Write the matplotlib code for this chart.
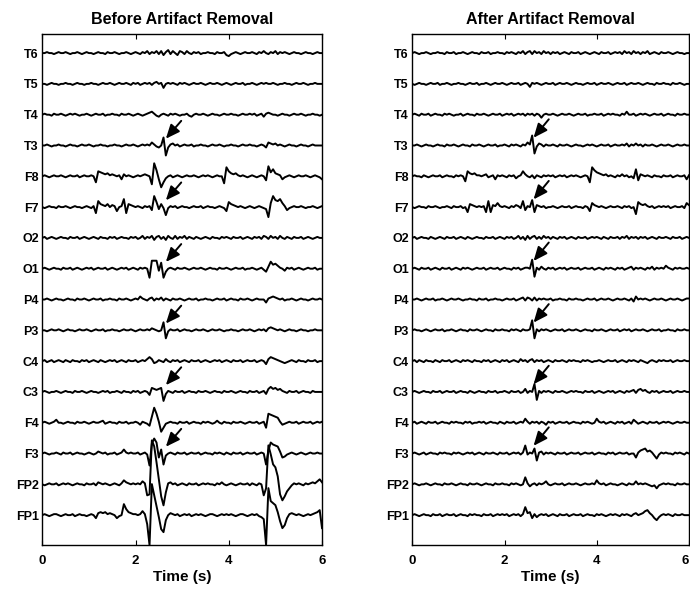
import numpy as np
import matplotlib
matplotlib.use("Agg")
import matplotlib.pyplot as plt

plt.rcParams['font.family'] = ['Liberation Sans', 'DejaVu Sans']
plt.rcParams['font.weight'] = 'bold'

# traces sampled every 0.05 s from 0 to 6 s, values in pixels of deflection (up = +)
channels = ["T6", "T5", "T4", "T3", "F8", "F7", "O2", "O1",
            "P4", "P3", "C4", "C3", "F4", "F3", "FP2", "FP1"]
arrow_channels = ["T3", "F7", "O1", "P3", "C3", "F3"]

# ---- before artifact removal ----
t6_before = [0,0,1,0,0,-1,0,1,0,0, 1,0,-1,0,0,1,0,-1,0,1, 0,0,-1,0,1,0,0,-1,1,0,
             0,1,0,-1,0,0,1,0,-1,0, 1,0,-1,1,0,2,-1,1,0,2, -1,2,-2,1,3,-1,2,0,-2,2,
             1,-1,2,0,-1,1,0,1,-1,0, 0,1,0,0,-1,1,0,0,1,-2, -3,-1,0,1,0,-1,0,1,0,0,
             1,0,-1,1,0,2,0,-1,1,0, 2,-1,1,0,1,0,-1,0,1,0, 0,-1,0,1,0,0,-1,0,1,0, 0]
t5_before = [0,0,-1,0,1,0,0,-1,0,0, 1,0,0,-1,0,1,0,0,-1,0, 0,1,0,0,-1,0,1,0,0,1,
             0,-1,0,1,0,0,1,0,-1,1, 0,1,-1,0,1,0,1,-1,1,2, 0,1,-4,0,1,0,1,0,-1,1,
             0,1,0,-1,0,1,0,0,1,0, -1,0,1,0,0,1,0,-1,0,1, 0,-1,0,1,0,0,1,-1,0,0,
             1,0,-1,0,1,0,1,0,0,1, 0,-1,0,0,1,0,0,-1,0,1, 0,0,1,0,-1,0,0,1,0,0, 0]
t4_before = [0,1,0,0,-1,1,0,0,1,0, -1,0,1,0,1,0,-1,0,0,1, 0,-1,0,1,0,0,1,-1,0,0,
             1,0,0,-1,1,0,0,1,0,-1, 0,1,0,-1,0,1,2,3,1,-1, -2,0,1,0,-1,1,0,1,0,-1,
             0,0,1,-1,-2,0,1,0,0,1, 0,-1,0,1,0,0,-1,0,1,0, 0,1,0,0,-1,0,1,0,0,1,
             0,1,-1,0,1,-2,1,2,1,0, 0,-1,0,1,0,0,-1,0,1,0, 0,1,0,-1,0,0,1,0,0,-1, 0]
t3_before = [0,0,1,0,-1,0,0,1,0,0, -1,0,1,0,0,-1,0,1,0,0, 1,0,-1,0,0,1,0,0,-1,0,
             0,1,0,0,-1,0,1,0,0,1, 0,-1,0,1,0,1,0,3,1,-1, -2,0,8,-10,-2,1,2,0,1,-1,
             0,1,0,0,1,-1,0,0,1,0, 0,-1,0,1,0,0,1,0,-1,0, 0,1,0,0,-1,0,1,0,0,1,
             0,0,-1,0,1,0,-2,3,2,1, 2,0,1,0,-1,0,1,0,0,-1, 0,1,0,0,-1,0,1,0,0,0, 0]
f8_before = [0,1,0,-1,0,1,0,0,1,0, -1,0,1,0,0,1,-1,0,1,0, 0,1,0,-6,5,4,3,2,3,1,
             2,1,0,1,-3,2,0,1,0,-1, 0,1,0,1,2,1,0,-8,13,6, -3,-11,-6,-2,0,1,-1,0,1,0,
             -1,0,1,0,0,1,0,-1,0,1, 0,1,0,-1,0,1,0,0,-7,9, 5,3,2,3,1,0,1,0,-1,0,
             1,0,-1,0,1,0,-4,10,4,7, 3,2,1,-3,-1,0,1,0,-1,0, 1,0,0,1,0,-1,0,1,0,-1, -3]
f7_before = [0,-1,0,1,0,0,-1,1,0,0, 1,0,-1,0,1,0,0,-1,0,1, 0,-1,1,-6,6,3,2,1,3,0,
             2,1,-4,0,1,8,-6,3,2,1, 0,1,0,-1,1,0,1,-3,11,5, -2,3,-1,-8,-1,1,0,1,-1,0,
             1,0,0,-1,0,1,0,0,1,-1, 0,1,0,0,-1,0,1,0,-1,-4, 5,3,2,1,0,1,0,-1,0,1,
             0,-1,0,1,0,-1,-2,-10,4,11, 7,6,8,4,1,-3,-1,0,1,0, 0,1,0,-1,0,0,1,0,-1,0, 1]
o2_before = [0,1,-1,0,1,0,-1,0,1,0, 0,-1,1,0,0,1,-1,0,1,0, -1,0,1,0,-1,1,0,0,-1,1,
             0,1,-1,0,1,0,0,-1,1,0, 1,-1,0,2,-1,1,0,2,-2,1, 2,-1,1,-2,2,0,-1,2,-1,1,
             0,2,-1,1,0,-1,1,0,-1,0, 1,0,-1,1,0,0,-1,1,0,1, 0,-1,1,0,0,1,-1,0,1,0,
             -1,1,0,1,-1,2,1,-1,2,0, 1,-1,2,0,-1,1,0,-1,1,0, 0,1,-1,0,1,0,-1,0,1,0, 0]
o1_before = [0,1,0,-1,0,1,0,0,-1,1, 0,0,1,-1,0,1,0,-1,0,1, 0,1,-1,0,1,0,0,1,-1,0,
             1,0,-1,0,1,0,1,-1,0,1, 0,-1,1,0,1,0,-9,8,8,8, -2,6,-9,-3,0,1,0,-1,1,0,
             0,1,0,-1,0,1,0,0,1,0, -1,0,1,0,0,-1,1,0,0,1, 0,-1,0,1,0,0,1,-1,0,0,
             1,0,-1,0,1,-1,-3,2,7,4, 5,3,1,0,-2,1,0,1,-1,0, 1,0,-1,0,1,0,0,1,-1,0, 0]
p4_before = [0,0,1,0,-1,0,1,0,0,-1, 0,1,0,0,-1,1,0,0,1,0, -1,0,1,0,0,1,-1,0,0,1,
             0,0,-1,1,0,0,1,0,-1,0, 1,0,3,1,0,-1,1,2,-1,1, 0,2,-1,1,0,-1,1,0,0,1,
             0,-1,0,1,0,0,1,-1,0,0, 1,0,0,-1,0,1,0,0,1,-1, 0,1,0,0,-1,1,0,0,1,0,
             -1,0,1,0,0,0,-3,1,2,3, 2,1,0,1,-1,0,0,1,0,-1, 0,1,0,0,-1,0,1,0,0,1, 0]
p3_before = [0,0,-1,0,1,0,0,1,0,-1, 0,1,0,0,-1,0,1,0,0,1, 0,-1,0,1,0,0,1,-1,0,0,
             1,0,0,-1,0,1,0,0,1,0, -1,0,1,0,0,1,0,2,1,0, -1,0,8,-8,-1,1,0,0,1,-1,
             0,1,0,0,-1,0,1,0,0,1, 0,-1,0,1,0,0,1,0,-1,0, 0,1,0,0,-1,0,1,0,0,1,
             0,-1,0,1,0,1,-1,2,3,2, 1,0,1,0,-1,0,1,0,0,-1, 0,1,0,0,-1,0,0,1,0,0, 0]
c4_before = [0,1,-1,0,1,-1,0,1,0,-1, 1,0,-1,1,0,0,-1,1,0,1, -1,0,1,0,-1,1,0,-1,0,1,
             0,1,-1,0,1,0,-1,1,0,0, 1,-1,0,1,0,2,4,2,-2,-1, 1,0,-1,2,0,-1,1,0,1,-1,
             0,1,0,-1,1,0,0,1,-1,0, 1,0,-1,0,1,0,1,-1,0,1, 0,-1,1,0,0,1,-1,0,1,0,
             0,1,-1,0,1,0,-3,2,4,3, 2,1,0,-1,-2,-1,0,1,0,-1, 1,0,0,-1,1,0,0,1,-1,0, 0]
c3_before = [0,1,0,-1,0,0,1,0,-1,0, 1,0,0,-1,1,0,0,1,0,-1, 0,1,0,0,-1,0,1,0,1,-1,
             0,0,1,0,-1,1,0,0,-1,1, 0,1,-1,0,1,0,-3,4,3,2, 3,4,-9,-2,1,0,-1,1,0,0,
             1,-1,0,1,0,0,-1,1,0,0, 1,0,-1,0,1,0,0,-1,1,0, 0,1,0,-1,0,1,0,0,-1,1,
             0,0,1,-1,0,1,-2,3,5,3, 4,2,3,1,0,-1,1,0,0,1, -1,0,1,0,0,-1,1,0,0,0, 0]
f4_before = [0,1,0,-1,0,1,3,0,0,-1, 0,1,0,0,-1,1,0,0,1,0, -1,0,1,0,0,1,2,-1,0,1,
             0,0,-1,1,0,0,1,-1,0,0, 1,0,-2,1,0,-1,-3,6,15,9, 1,-9,-5,-1,0,1,0,0,-1,1,
             0,0,1,-1,0,1,0,0,-1,1, 0,1,0,-1,0,2,0,-1,1,0, 0,-1,1,0,0,1,0,-1,0,1,
             0,0,1,-1,0,1,-5,9,8,7, 6,5,1,-2,-1,0,1,0,0,1, -1,0,1,0,0,1,-1,0,1,0, 1]
f3_before = [0,1,0,-1,0,0,1,0,-1,1, 0,0,1,-1,0,1,0,0,-1,0, 1,0,-1,0,2,1,0,1,-1,0,
             0,1,-1,0,1,4,1,0,1,0, 0,1,-1,0,1,-1,-12,10,15,11, -4,4,-11,-2,0,1,0,-1,1,0,
             0,1,-1,0,1,0,0,1,-1,0, 1,0,0,-1,1,0,1,0,-1,1, 0,-1,1,0,0,1,-1,0,1,0,
             0,1,-1,0,1,0,-11,3,11,9, 8,7,2,-4,-3,-1,0,1,0,-1, 0,1,0,-1,0,1,0,0,1,0, 0]
fp2_before = [0,-1,0,1,0,0,1,-1,0,1, 0,1,0,-1,0,1,0,0,-1,1, 0,0,1,-1,2,1,0,1,0,-1,
              0,1,0,-1,1,4,2,1,0,1, 0,1,0,3,1,-11,-10,44,38,22, 5,-12,-21,-8,1,2,0,1,-1,0,
              1,0,-1,1,0,0,1,-1,0,1, 0,1,0,0,-1,1,0,2,0,-1, 0,1,0,-1,0,1,0,0,1,-1,
              1,0,-1,1,0,-11,-4,39,30,20, 17,8,-10,-16,-12,-7,-4,-1,1,0, 1,0,-1,1,0,1,2,1,3,5, 2]
fp1_before = [0,1,0,-1,0,1,1,0,-1,0, 1,0,0,1,-1,0,1,0,0,-1, 0,1,0,-3,2,3,2,3,1,2,
              1,0,-3,-1,0,11,6,3,2,1, 1,0,1,4,1,-9,-30,31,20,9, -2,-14,-17,-5,0,2,1,0,1,-1,
              0,1,0,1,-1,0,1,0,1,0, -1,0,1,1,0,-1,0,1,0,1, 0,1,0,-1,0,1,1,0,-1,0,
              1,0,1,-1,-2,-4,-30,27,14,12, 10,3,-6,-13,-10,-3,1,2,1,0, 1,0,-1,0,1,0,1,2,3,5, -13]

# ---- after artifact removal ----
t6_after = [0,1,0,-1,0,0,1,0,-1,0, 0,1,0,0,-1,1,0,0,1,-1, 0,0,1,0,-1,0,1,0,0,-1,
            1,0,0,1,-1,0,0,1,0,0, -1,1,0,1,0,-1,1,0,2,-1, 1,2,-1,2,0,1,-1,2,0,1,
            -1,1,0,1,-1,0,1,0,-1,1, 0,0,1,-1,0,1,0,-1,0,1, 0,-1,1,0,0,1,-1,0,1,0,
            1,-1,2,0,1,-1,2,0,1,-1, 1,0,2,-1,0,1,0,-1,1,0, 0,1,0,-1,0,1,0,0,-1,0, 0]
t5_after = [0,-1,0,1,0,0,-1,0,1,0, 0,1,-1,0,0,1,0,-1,0,0, 1,0,0,-1,0,1,0,0,1,-1,
            0,0,1,0,-1,0,1,0,0,1, 0,-1,0,1,0,0,1,-1,0,1, 0,-3,1,0,1,0,-1,0,1,0,
            0,1,-1,0,1,0,0,1,0,-1, 0,1,0,0,-1,0,1,0,0,1, -1,0,1,0,0,1,0,-1,0,1,
            0,0,1,-1,0,1,0,0,1,0, -1,0,1,0,0,-1,1,0,0,1, 0,0,-1,1,0,0,1,0,-1,0, 0]
t4_after = [0,1,0,-1,1,0,0,1,-1,0, 1,0,0,-1,1,0,1,0,-1,0, 0,1,-1,0,1,0,0,-1,1,0,
            0,1,0,-1,0,1,0,0,1,-1, 0,1,0,1,-1,0,1,0,1,-1, 1,0,1,-1,1,0,-3,0,1,0,
            0,1,0,-1,0,1,0,0,1,0, -1,0,1,0,0,1,-1,0,0,1, 0,0,1,-1,0,1,0,1,0,0,
            -1,1,0,3,0,0,1,-1,0,1, 0,1,0,-1,0,1,0,0,1,-1, 0,1,0,0,-1,1,0,0,1,0, 0]
t3_after = [0,0,1,0,-1,0,1,0,0,-1, 0,1,0,0,-1,1,0,0,1,0, -1,0,1,0,0,-1,1,0,0,1,
            0,-1,0,1,0,0,1,-1,0,0, 1,0,-1,1,0,1,0,-1,1,0, 3,1,10,-8,-1,2,1,-1,1,0,
            0,1,0,-1,1,0,0,1,0,-1, 0,1,0,0,-1,0,1,0,1,0, -1,0,1,0,0,1,-1,0,1,0,
            0,1,0,2,-1,1,0,2,0,1, -1,1,0,0,1,0,-1,0,1,0, 0,1,0,-1,0,1,0,0,1,0, 0]
f8_after = [0,1,0,0,-1,1,0,-1,0,1, 0,0,1,-1,0,1,0,0,-1,1, 0,1,0,-5,5,3,2,3,1,1,
            0,1,2,-1,0,1,-3,1,0,1, 0,-1,1,0,1,-2,0,1,5,2, 0,-1,1,-2,1,0,-1,1,0,1,
            0,1,-1,0,1,0,1,-1,0,1, 0,1,0,-1,0,1,0,-6,9,6, 4,3,2,1,2,0,1,0,-1,1,
            0,2,0,1,-1,0,-2,7,-4,2, 1,0,1,0,-1,1,0,0,-1,1, 0,0,1,-1,0,1,0,0,1,-3, 1]
f7_after = [0,-1,0,1,0,0,-1,1,0,0, 1,0,-1,0,0,1,0,-1,1,0, 0,1,-1,0,-5,3,2,1,0,1,
            0,1,-5,6,-5,2,1,4,1,0, 1,0,-1,1,0,2,1,-1,6,-3, 1,0,7,-5,2,1,0,1,-1,0,
            0,1,0,-1,0,1,0,0,1,-1, 0,1,0,0,-1,1,0,-4,4,2, 1,0,1,0,-1,0,1,0,0,1,
            0,-1,1,0,1,-1,0,-7,5,3, 2,3,1,0,1,-1,0,1,0,1, 0,1,-1,0,1,0,0,1,-1,4, 2]
o2_after = [0,1,-1,0,1,0,0,-1,1,0, -1,0,1,0,-1,1,0,0,1,-1, 0,1,0,-1,1,0,-1,0,1,0,
            0,-1,1,0,0,1,-1,0,1,0, -1,1,0,1,-1,0,2,-1,1,-2, 2,-1,1,2,-1,1,-1,2,0,1,
            -1,1,0,-1,1,0,1,-1,0,1, 0,-1,1,0,0,1,-1,0,1,0, 1,0,-1,1,0,-1,1,0,0,1,
            -1,1,0,2,-1,1,0,1,-1,1, 0,1,-1,0,1,0,-1,1,0,0, 1,0,-1,1,0,0,1,-1,0,1, 0]
o1_after = [0,1,0,-1,1,0,0,1,-1,0, 1,0,-1,1,0,0,1,-1,0,1, 0,-1,1,0,1,0,-1,0,1,0,
            0,1,-1,0,1,0,0,1,-1,0, 1,0,0,-1,1,0,1,-1,0,1, 1,0,9,-8,1,-1,2,0,-1,1,
            0,1,-1,0,1,0,1,-1,0,1, 0,0,1,-1,0,1,0,0,1,-1, 0,1,0,-1,1,0,1,0,-1,1,
            0,1,-1,0,1,2,-1,1,0,1, 0,-1,1,0,2,-1,1,0,1,0, 3,1,0,-1,1,0,1,0,0,1, 0]
p4_after = [0,0,1,0,-1,0,1,0,0,1, -1,0,0,1,0,-1,0,1,0,0, 1,0,-1,0,0,1,0,0,-1,1,
            0,0,1,-1,0,0,1,0,0,-1, 0,1,0,0,1,-1,0,1,2,-1, 2,1,-1,2,-1,1,0,1,0,0,
            1,-1,0,0,1,0,0,-1,1,0, 0,1,0,0,-1,0,1,0,0,1, -1,0,1,0,0,1,0,-1,0,1,
            0,0,1,0,-1,1,-2,3,0,1, 0,1,0,-1,0,1,0,0,1,0, -1,0,1,0,0,1,0,-1,0,1, 1]
p3_after = [0,1,0,0,-1,0,1,0,-1,0, 1,0,0,1,-1,0,0,1,0,-1, 0,1,0,0,-1,1,0,0,1,0,
            -1,0,1,0,0,-1,1,0,0,1, 0,0,-1,1,0,1,0,-1,1,0, 0,1,10,-8,1,-1,1,0,1,0,
            -1,0,1,0,0,1,-1,0,1,0, 0,1,0,-1,0,1,0,0,-1,1, 0,0,1,0,-1,0,1,0,0,1,
            -1,0,1,0,1,-1,0,1,0,0, 1,0,-1,0,1,0,0,1,-1,0, 0,1,0,0,-1,1,0,0,1,0, 0]
c4_after = [0,1,-1,1,0,-1,1,0,0,-1, 1,0,-1,1,0,0,1,-1,0,1, 0,-1,1,0,1,0,-1,1,0,0,
            -1,1,0,1,-1,0,1,0,-1,1, 0,1,-1,0,1,0,-1,2,0,1, -1,1,2,-1,1,0,1,-1,0,1,
            0,-1,1,0,0,1,0,-1,1,0, 1,0,0,-1,1,0,1,0,-1,0, 0,1,0,-1,0,1,0,0,1,-1,
            0,1,0,-1,1,0,1,0,-1,1, 0,-1,-2,0,1,0,-1,1,0,1, 0,0,1,-1,0,1,0,0,1,0, 0]
c3_after = [0,1,0,-1,0,1,0,0,-1,1, 0,0,1,-1,0,1,0,0,1,-1, 0,1,0,0,-1,1,0,-1,0,1,
            0,0,-1,1,0,0,1,-1,0,0, 1,0,-1,1,0,0,1,-1,0,3, -1,1,0,8,-8,1,-1,1,0,1,
            0,-1,1,0,0,1,0,-1,0,1, 0,1,0,0,-1,1,0,0,1,-1, 0,1,0,-1,0,1,0,1,-1,0,
            1,0,-1,1,0,1,2,-1,2,3, 1,2,0,-1,1,0,1,-1,0,1, 0,0,1,-1,0,1,0,0,1,0, 0]
f4_after = [0,1,-1,0,1,0,-1,1,0,0, 1,-1,0,1,0,0,-1,1,0,1, 0,0,-1,1,0,1,-1,0,0,1,
            0,1,-1,0,1,0,0,-1,1,0, -1,1,0,0,1,-1,0,1,0,4, 1,-1,1,0,1,-1,1,0,-2,1,
            0,1,-1,0,1,0,0,1,-1,0, 1,0,0,-1,1,0,1,0,-1,0, 4,1,0,1,-1,0,1,0,-1,1,
            0,1,-1,0,1,-1,3,1,-1,0, 1,0,-1,1,0,0,1,-1,0,1, 0,1,0,-1,0,1,0,0,1,0, 0]
f3_after = [0,1,0,-1,0,1,-1,0,1,0, 0,-1,1,0,1,0,0,-1,1,0, 1,0,-1,0,1,0,1,-1,0,1,
            0,-1,1,0,0,1,0,-1,1,0, 0,1,-1,0,1,0,1,-1,1,8, -1,1,0,5,-7,1,2,-1,1,0,
            1,0,-1,1,0,0,1,-1,0,1, 0,0,1,-1,0,1,0,0,1,-1, 0,1,0,0,-1,1,0,1,-1,0,
            1,0,0,1,-1,0,0,-4,1,3, 4,5,2,3,1,-2,-5,-1,1,0, 1,0,0,-1,1,0,1,0,-1,1, 0]
fp2_after = [0,1,0,-1,0,0,1,0,-1,0, 1,0,0,-1,1,0,0,1,0,-1, 0,1,0,0,-1,1,0,0,1,0,
             -1,0,1,0,0,-1,1,0,0,1, 0,0,-1,1,0,1,0,-1,0,7, 1,-2,0,1,-1,1,0,1,3,0,
             -1,0,1,0,0,1,-1,0,1,0, 0,1,0,-1,0,1,0,0,1,0, 4,1,0,1,-1,0,1,0,0,-1,
             0,1,0,-1,1,0,0,3,0,1, 0,1,0,-1,-2,-1,-4,-1,0,1, 0,1,0,0,-1,1,0,0,1,0, 0]
fp1_after = [0,1,0,-1,0,1,0,0,-1,1, 0,0,1,-1,0,1,0,0,1,-1, 0,1,0,0,-1,1,0,1,0,0,
             -1,1,0,0,1,-1,0,1,0,1, 0,1,-1,0,1,0,1,-1,1,8, 2,3,-3,1,-2,0,1,0,1,-1,
             0,1,0,-1,1,0,0,1,-1,0, 1,0,0,1,-1,0,1,0,0,-1, 1,0,1,0,-1,0,1,0,1,0,
             -1,1,0,1,0,-1,1,2,0,1, 2,4,5,2,0,-3,-5,-2,0,1, 0,1,0,-1,1,0,0,1,0,0, 0]

before = [t6_before, t5_before, t4_before, t3_before, f8_before, f7_before, o2_before, o1_before,
          p4_before, p3_before, c4_before, c3_before, f4_before, f3_before, fp2_before, fp1_before]
after = [t6_after, t5_after, t4_after, t3_after, f8_after, f7_after, o2_after, o1_after,
         p4_after, p3_after, c4_after, c3_after, f4_after, f3_after, fp2_after, fp1_after]

PX_PER_ROW = 30.8
offsets = np.arange(len(channels), 0, -1)

fig = plt.figure(figsize=(6.9, 5.91), dpi=100)
ax1 = fig.add_axes([0.0613, 0.0778, 0.4054, 0.8647])
ax2 = fig.add_axes([0.5975, 0.0778, 0.401, 0.8647])


def draw(ax, traces, title, head, tail):
    for off, vals in zip(offsets, traces):
        t = np.linspace(0, 6, len(vals))
        ax.plot(t, off + np.array(vals) / PX_PER_ROW, color='k', lw=1.4)
    for ch in arrow_channels:
        off = offsets[channels.index(ch)]
        ax.annotate('', xy=(head[0], off + head[1]), xytext=(tail[0], off + tail[1]),
                    arrowprops=dict(arrowstyle='-|>,head_length=0.7,head_width=0.3',
                                    mutation_scale=12, color='k', lw=1.4,
                                    shrinkA=0, shrinkB=0))
    ax.set_xlim(0, 6)
    ax.set_ylim(0.03, 16.62)
    ax.set_xticks([0, 2, 4, 6])
    ax.set_yticks(offsets)
    ax.set_yticklabels(channels)
    ax.tick_params(axis='x', direction='in', top=True, length=3.5, pad=7, labelsize=9.5)
    ax.tick_params(axis='y', length=0, pad=2.5, labelsize=9)
    for s in ax.spines.values():
        s.set_linewidth(1.0)
    ax.set_xlabel('Time (s)', fontsize=11, fontweight='bold', labelpad=2)
    ax.set_title(title, fontsize=11.5, fontweight='bold', pad=7)


draw(ax1, before, 'Before Artifact Removal', (2.65, 0.22), (2.98, 0.8))
draw(ax2, after, 'After Artifact Removal', (2.63, 0.25), (2.96, 0.85))

# the right panel reaches the figure edge; keep its last tick label inside
ax2.get_xticklabels()[-1].set_horizontalalignment('right')

fig.savefig('out.png', dpi=100)
